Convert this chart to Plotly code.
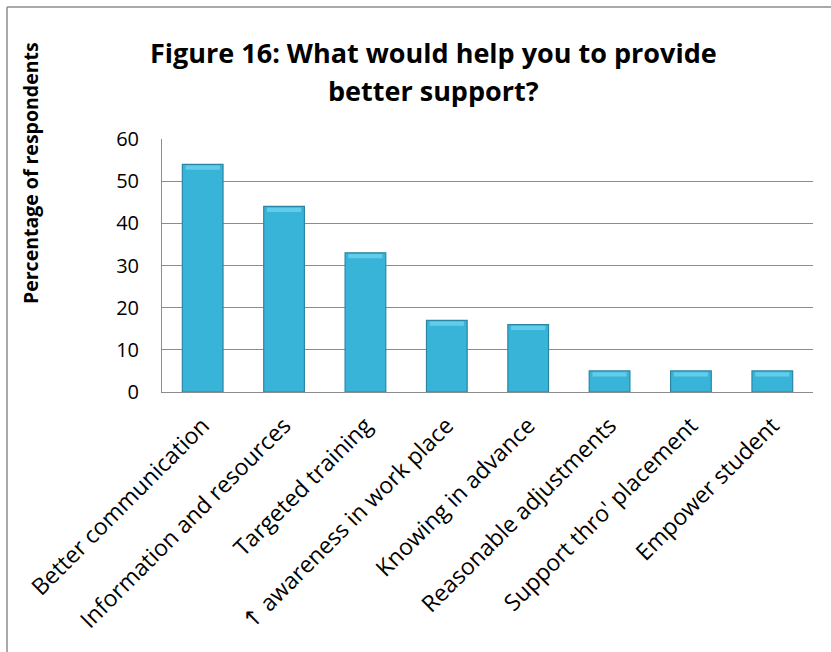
import plotly.graph_objects as go

categories = ["Better communication", "Information and resources", "Targeted training",
              "\u2191 awareness in work place", "Knowing in advance", "Reasonable adjustments",
              "Support thro' placement", "Empower student"]
values = [54, 44, 33, 17, 16, 5, 5, 5]
y_ticks = [0, 10, 20, 30, 40, 50, 60]

FONT = "Open Sans"

tick_text = [c.replace("\u2191", "<span style='font-family:DejaVu Sans'>\u2191</span>") for c in categories]

fig = go.Figure()
fig.add_trace(go.Bar(
    x=categories, y=values,
    marker=dict(color="#38B4D8", line=dict(color="#2A86A3", width=1.2)),
    width=0.5,
))
# highlight band to mimic the bevelled top of each bar
fig.add_trace(go.Bar(
    x=categories, y=[1.0 for v in values], base=[v - 1.3 for v in values],
    marker=dict(color="#62CDEB", line=dict(width=0)),
    width=0.42, hoverinfo="skip",
))

fig.update_layout(
    width=831, height=652,
    margin=dict(l=162, r=18, t=139, b=260),
    paper_bgcolor="white", plot_bgcolor="white",
    showlegend=False, barmode="overlay",
    font=dict(family=FONT, color="black"),
    xaxis=dict(
        tickangle=-45, tickfont=dict(size=23, family=FONT),
        tickvals=categories, ticktext=tick_text,
        showline=True, linecolor="#8C8C8C", linewidth=1, ticks="",
        showgrid=False, ticklabelstandoff=10,
    ),
    yaxis=dict(
        range=[0, 60], tickvals=y_ticks, tickfont=dict(size=20, family=FONT),
        showgrid=True, gridcolor="#8C8C8C", gridwidth=1,
        showline=True, linecolor="#8C8C8C", linewidth=1, ticks="",
        ticklabelstandoff=18, zeroline=False,
    ),
    shapes=[
        dict(type="line", xref="paper", yref="paper", x0=-155/651, x1=1.1, y0=1+132/253, y1=1+132/253,
             line=dict(color="#8C8C8C", width=1.5)),
        dict(type="line", xref="paper", yref="paper", x0=-155/651, x1=-155/651, y0=-2, y1=1+132/253,
             line=dict(color="#8C8C8C", width=1.5)),
    ],
    annotations=[
        dict(text="<b>Figure 16: What would help you to provide</b>", xref="paper", yref="paper",
             x=(433 - 162) / 651, y=1 + (139 - 53) / 253, showarrow=False,
             font=dict(size=27, family=FONT), xanchor="center", yanchor="middle"),
        dict(text="<b>better support?</b>", xref="paper", yref="paper",
             x=(433 - 162) / 651, y=1 + (139 - 90) / 253, showarrow=False,
             font=dict(size=27, family=FONT), xanchor="center", yanchor="middle"),
        dict(text="<b>Percentage of respondents</b>", xref="paper", yref="paper",
             x=(30 - 162) / 651, y=1 - (173 - 139) / 253, showarrow=False, textangle=-90,
             font=dict(size=19.5, family=FONT), xanchor="center", yanchor="middle"),
    ],
)

fig.write_html("out.html")
